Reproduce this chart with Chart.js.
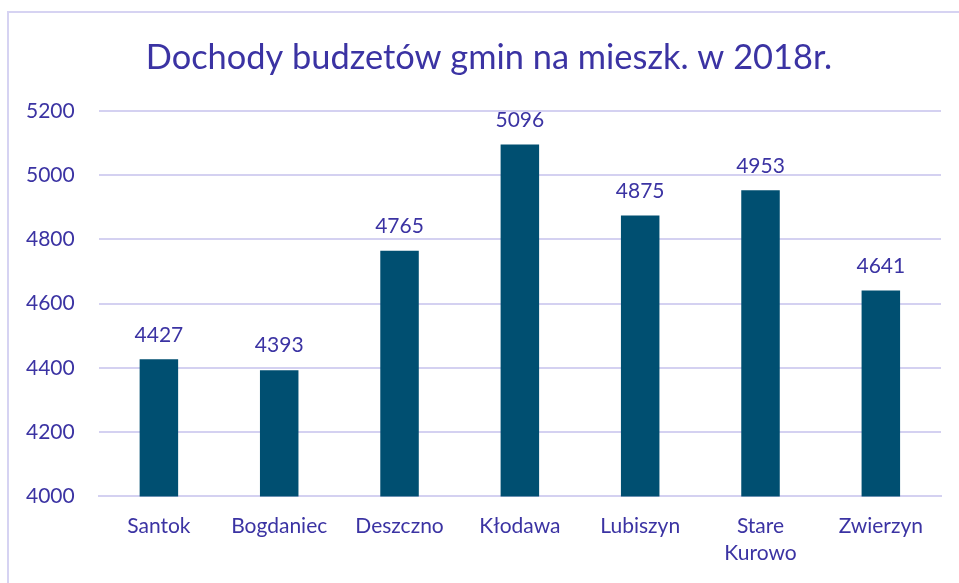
<!DOCTYPE html>
<html>
<head>
<meta charset="utf-8">
<script src="https://cdn.jsdelivr.net/npm/chart.js@4.4.1/dist/chart.umd.min.js"></script>
<style>
  html, body { margin: 0; padding: 0; background: #fff; }
  #wrap { position: absolute; left: 0; top: 0; width: 959px; height: 583px; }
  #frame { position: absolute; left: 7px; top: 11px; width: 1000px; height: 700px; border: 2px solid #d6d3f2; box-sizing: border-box; }
  canvas { position: absolute; left: 0; top: 0; }
</style>
</head>
<body>
<div id="wrap">
  <div id="frame"></div>
  <canvas id="c" width="959" height="583"></canvas>
</div>
<script>
const titleText = 'Dochody budzetów gmin na mieszk. w 2018r.';
const categories = ['Santok', 'Bogdaniec', 'Deszczno', 'Kłodawa', 'Lubiszyn', ['Stare', 'Kurowo'], 'Zwierzyn'];
const values = [4427, 4393, 4765, 5096, 4875, 4953, 4641];
const yMin = 4000, yMax = 5200, yStep = 200;

const textColor = '#3b33a3';
const gridColor = '#d4d1f1';
const barColor = '#004f71';
const fontFam = 'Lato, "Open Sans", sans-serif';

const valueLabels = {
  id: 'valueLabels',
  afterDatasetsDraw(chart) {
    const ctx = chart.ctx;
    const meta = chart.getDatasetMeta(0);
    ctx.save();
    ctx.fillStyle = textColor;
    ctx.font = '21px ' + fontFam;
    ctx.textAlign = 'center';
    ctx.textBaseline = 'bottom';
    meta.data.forEach((bar, i) => {
      ctx.fillText(String(values[i]), bar.x, bar.y - 14);
    });
    ctx.restore();
  }
};

const centeredTitle = {
  id: 'centeredTitle',
  afterDraw(chart) {
    const ctx = chart.ctx;
    ctx.save();
    ctx.fillStyle = textColor;
    ctx.font = '34.4px ' + fontFam;
    ctx.textAlign = 'center';
    ctx.textBaseline = 'middle';
    ctx.fillText(titleText, 489, 58);
    ctx.restore();
  }
};

new Chart(document.getElementById('c'), {
  type: 'bar',
  data: {
    labels: categories,
    datasets: [{
      data: values,
      backgroundColor: barColor,
      borderWidth: 0,
      categoryPercentage: 1.0,
      barPercentage: 0.32
    }]
  },
  options: {
    responsive: false,
    animation: false,
    devicePixelRatio: 1,
    layout: { padding: { left: 2, right: 18, top: 111, bottom: 0 } },
    plugins: {
      legend: { display: false },
      tooltip: { enabled: false },
      title: { display: false }
    },
    scales: {
      x: {
        grid: { display: false, drawTicks: false },
        border: { display: true, color: gridColor, width: 2 },
        ticks: { color: textColor, font: { family: fontFam, size: 21, lineHeight: 1.3 }, padding: 16, maxRotation: 0, autoSkip: false }
      },
      y: {
        min: yMin, max: yMax,
        ticks: { stepSize: yStep, color: textColor, font: { family: fontFam, size: 21 }, padding: 24, callback: v => String(v) },
        grid: { color: gridColor, lineWidth: 2, drawTicks: false },
        border: { display: false }
      }
    }
  },
  plugins: [valueLabels, centeredTitle]
});
</script>
</body>
</html>
